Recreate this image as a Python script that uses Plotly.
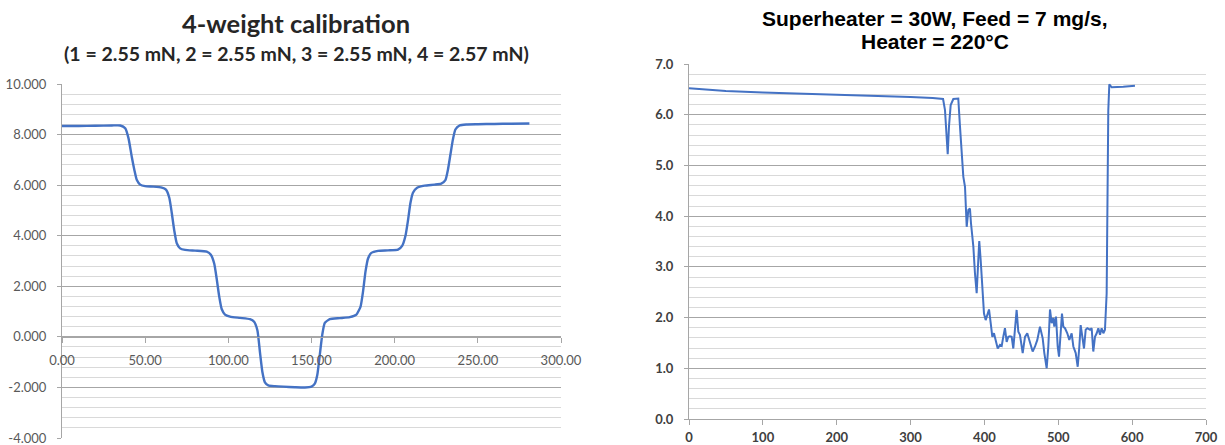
import plotly.graph_objects as go

# ---------------- data ----------------
left_x = [0, 10, 20, 30, 35, 38, 40, 42, 43.5, 45, 47, 50, 55, 60, 62.5, 64.5, 66, 67.5, 69, 71, 74, 80, 87,
          89.5, 91.5, 93, 94.5, 96, 98, 101, 107, 113, 115.5, 117.5, 119, 120.5, 122, 124, 128, 133, 140, 146,
          150, 152, 153.5, 155, 156.5, 158, 161, 167, 173, 177, 179.5, 181, 182.5, 184, 186, 190, 196, 202,
          204.5, 206.5, 208, 209.5, 211, 213.5, 218, 224, 228, 230.5, 232, 233.5, 235, 236.5, 239, 243, 250,
          260, 270, 281]
left_y = [8.34, 8.34, 8.35, 8.36, 8.36, 8.25, 7.85, 7.1, 6.6, 6.2, 6.02, 5.96, 5.94, 5.9, 5.82, 5.5, 4.9, 4.2,
          3.7, 3.5, 3.44, 3.41, 3.37, 3.25, 2.9, 2.3, 1.6, 1.1, 0.88, 0.8, 0.75, 0.7, 0.6, 0.25, -0.6, -1.4,
          -1.8, -1.92, -1.95, -1.97, -1.99, -2.0, -1.97, -1.85, -1.5, -0.7, 0.1, 0.55, 0.7, 0.74, 0.78, 0.88,
          1.2, 1.8, 2.6, 3.1, 3.32, 3.4, 3.42, 3.45, 3.6, 4.0, 4.6, 5.3, 5.7, 5.9, 5.98, 6.02, 6.06, 6.2, 6.6,
          7.2, 7.8, 8.2, 8.36, 8.4, 8.41, 8.42, 8.43, 8.44]

right_x = [0, 50, 100, 150, 200, 250, 300, 330, 344, 346.6, 348.9, 350.3, 352, 354.3, 357.9, 364.6, 366.9,
           369.2, 371.4, 373.7, 376, 378.2, 380.4, 381.8, 385, 387.2, 389.5, 391.7, 393, 394.9, 397.1, 399.4,
           401.7, 403.9, 406.2, 408.5, 410.7, 412.9, 415.2, 418, 421.1, 423.4, 425.5, 427.8, 430.1, 432.3,
           434.6, 436.9, 439.1, 441.4, 443.6, 445.9, 448.1, 451.8, 454.9, 458, 461.7, 465.3, 468.5, 471.6,
           475.2, 478.9, 481.1, 484.3, 486.5, 488.8, 491, 493.3, 494.6, 496.9, 499.2, 501, 503.2, 505, 506.8,
           509.1, 512.2, 514.9, 518.1, 520.4, 523.6, 526.3, 528.5, 530.3, 532.6, 534.8, 537.1, 539.3, 542.9,
           545.2, 547.4, 549.7, 552, 554.2, 556.5, 558.7, 561, 563.2, 565.5, 567.7, 569.1, 572.3, 588, 603.8]
right_y = [6.52, 6.47, 6.44, 6.42, 6.40, 6.37, 6.35, 6.33, 6.31, 6.09, 5.57, 5.22, 5.77, 6.19, 6.31, 6.32,
           5.77, 5.34, 4.78, 4.58, 3.79, 4.12, 4.15, 3.86, 3.40, 2.87, 2.48, 3.14, 3.51, 3.14, 2.48, 2.08,
           1.95, 2.05, 2.16, 1.89, 1.62, 1.69, 1.56, 1.39, 1.46, 1.44, 1.62, 1.79, 1.52, 1.62, 1.63, 1.62,
           1.39, 1.82, 2.15, 1.72, 1.66, 1.30, 1.62, 1.69, 1.50, 1.33, 1.43, 1.56, 1.82, 1.59, 1.30, 1.00,
           1.43, 2.16, 1.89, 1.99, 1.82, 2.02, 1.43, 1.23, 1.69, 2.08, 1.82, 1.79, 1.69, 1.56, 1.69, 1.43,
           1.30, 1.03, 1.43, 1.85, 1.62, 1.39, 1.76, 1.79, 1.76, 1.79, 1.33, 1.62, 1.69, 1.79, 1.66, 1.79,
           1.69, 1.76, 2.48, 6.09, 6.60, 6.54, 6.55, 6.57]

left_ytick_vals = [-4, -2, 0, 2, 4, 6, 8, 10]
left_ytick_text = ["-4.000", "-2.000", "0.000", "2.000", "4.000", "6.000", "8.000", "10.000"]
left_xtick_vals = [0, 50, 100, 150, 200, 250, 300]
left_xtick_text = ["0.00", "50.00", "100.00", "150.00", "200.00", "250.00", "300.00"]
right_ytick_vals = [0, 1, 2, 3, 4, 5, 6, 7]
right_ytick_text = ["0.0", "1.0", "2.0", "3.0", "4.0", "5.0", "6.0", "7.0"]
right_xtick_vals = [0, 100, 200, 300, 400, 500, 600, 700]
right_xtick_text = ["0", "100", "200", "300", "400", "500", "600", "700"]

left_title = "4-weight calibration"
left_subtitle = "(1 = 2.55 mN, 2 = 2.55 mN, 3 = 2.55 mN, 4 = 2.57 mN)"
right_title_1 = "Superheater = 30W, Feed = 7 mg/s,"
right_title_2 = "Heater = 220°C"

# ---------------- layout geometry (pixels) ----------------
W, H = 1225, 445
def px(x):
    return x / W
def py(y):
    return 1 - y / H

LINE = "#4472C4"
MAJOR = "#a6a6a6"
MINOR = "#d9d9d9"
AXIS = "#a6a6a6"

fig = go.Figure()
fig.add_trace(go.Scatter(x=left_x, y=left_y, mode="lines", xaxis="x", yaxis="y",
                         line=dict(color=LINE, width=2.4, shape="spline", smoothing=0.5),
                         showlegend=False))
fig.add_trace(go.Scatter(x=right_x, y=right_y, mode="lines", xaxis="x2", yaxis="y2",
                         line=dict(color=LINE, width=2),
                         showlegend=False))

left_top, left_bot = 84, 438
zero_frac = py(left_bot) + (4 / 14) * (py(left_top) - py(left_bot))

tickfont_l = dict(family="Lato", size=13, color="#595959")
tickfont_r = dict(family="Lato", size=13, color="#404040", weight="bold")

fig.update_layout(
    width=W, height=H,
    margin=dict(l=0, r=0, t=0, b=0),
    paper_bgcolor="white", plot_bgcolor="white",
    xaxis=dict(domain=[px(62), px(561)], range=[0, 300], anchor="free", position=zero_frac,
               automargin=False, ticklabeloverflow="allow",
               tickvals=left_xtick_vals, ticktext=left_xtick_text, tickfont=tickfont_l,
               showgrid=False, zeroline=False, showline=True, linecolor=AXIS, linewidth=1,
               ticks="outside", ticklen=5, tickcolor=AXIS, ticklabelstandoff=7),
    yaxis=dict(domain=[py(left_bot), py(left_top)], range=[-4, 10], anchor="x",
               automargin=False, ticklabeloverflow="allow",
               tickvals=left_ytick_vals, ticktext=left_ytick_text, tickfont=tickfont_l,
               showgrid=True, gridcolor=MAJOR, gridwidth=1, zeroline=False,
               showline=True, linecolor=AXIS, linewidth=1,
               ticks="outside", ticklen=4, tickcolor=AXIS, ticklabelstandoff=8,
               minor=dict(dtick=0.4, tick0=0, showgrid=True, gridcolor=MINOR, gridwidth=1)),
    xaxis2=dict(domain=[px(689), px(1206)], range=[0, 700], anchor="y2",
                automargin=False, ticklabeloverflow="allow",
                tickvals=right_xtick_vals, ticktext=right_xtick_text, tickfont=tickfont_r,
                showgrid=False, zeroline=False, showline=True, linecolor=AXIS, linewidth=1,
                ticks="outside", ticklen=5, tickcolor=AXIS, ticklabelstandoff=1),
    yaxis2=dict(domain=[py(419), py(64)], range=[0, 7], anchor="x2",
                automargin=False, ticklabeloverflow="allow",
                tickvals=right_ytick_vals, ticktext=right_ytick_text, tickfont=tickfont_r,
                showgrid=True, gridcolor=MAJOR, gridwidth=1, zeroline=False,
                showline=True, linecolor=AXIS, linewidth=1,
                ticks="outside", ticklen=4, tickcolor=AXIS, ticklabelstandoff=8,
                minor=dict(dtick=0.2, tick0=0, showgrid=True, gridcolor=MINOR, gridwidth=1)),
)

def ann(text, cx, cy, size, family, color):
    fig.add_annotation(text=text, x=px(cx), y=py(cy), xref="paper", yref="paper",
                       xanchor="center", yanchor="middle", showarrow=False,
                       font=dict(family=family, size=size, color=color, weight="bold"))

ann(left_title, 296, 23, 25.5, "Lato", "#262626")
ann(left_subtitle, 296, 53.5, 19.5, "Lato", "#262626")
ann(right_title_1, 934, 18.5, 21, "Liberation Sans", "#000000")
ann(right_title_2, 935, 41.5, 21, "Liberation Sans", "#000000")

fig.write_html("out.html")
